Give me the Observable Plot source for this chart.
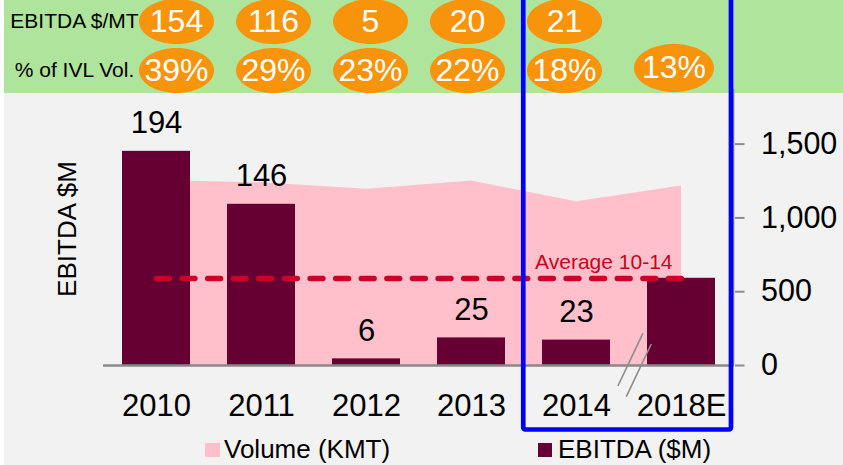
<!DOCTYPE html>
<html><head><meta charset="utf-8">
<script src="https://cdn.jsdelivr.net/npm/d3@7"></script>
<script src="https://cdn.jsdelivr.net/npm/@observablehq/plot@0.6"></script>
<style>
body{margin:0;background:#fff;}
#wrap{position:relative;width:843px;height:465px;overflow:hidden;background:#fff;font-family:"Liberation Sans",Arial,sans-serif;}
#green{position:absolute;left:4px;top:0;width:839px;height:93px;background:#aee49b;}
#gray{position:absolute;left:4px;top:93px;width:839px;height:372px;background:#f2f2f2;}
.layer{position:absolute;left:0;top:0;}
.lg{position:absolute;font-size:26px;line-height:26px;color:#000;white-space:nowrap;}
.sw{position:absolute;}
</style></head><body>
<div id="wrap"><div id="green"></div><div id="gray"></div></div>
<script>
// ---- data ----
const years = ["2010", "2011", "2012", "2013", "2014", "2018E"];
const ebitda = [194, 146, 6, 25, 23, 79];            // $M
const ebitdaLabels = ["194", "146", "6", "25", "23", ""];
const volume = [1253, 1238, 1194, 1250, 1110, 1216];  // KMT
const perMT = [154, 116, 5, 20, 21, null];
const ivlShare = ["39%", "29%", "23%", "22%", "18%", "13%"];
const rowLabels = ["EBITDA $/MT", "% of IVL Vol."];
const yTicks = [0, 500, 1000, 1500];
const avgLabel = "Average 10-14";
const yTitle = "EBITDA $M";
const legendLabels = ["Volume (KMT)", "EBITDA ($M)"];
const ebitdaAxisMax = 250, volumeAxisMax = 1870;

const FONT = '"Liberation Sans", Arial, sans-serif';
const C = {pink: "#ffc0cb", bar: "#660033", red: "#cc0029", orange: "#f7940c", blue: "#0000ff", gray: "#8c8c8c"};

const k = volumeAxisMax / ebitdaAxisMax;
const rows = years.map((y, i) => ({year: y, ebitda: ebitda[i], label: ebitdaLabels[i], volume: volume[i]}));
const avg = d3.mean(ebitda.slice(0, 5));
const avgEnds = [years[0], years[years.length - 1]];
const padIn = 0.357;

const wrap = document.getElementById("wrap");

const mainPlot = Plot.plot({
  width: 843, height: 435, marginLeft: 103, marginRight: 109, marginTop: 89, marginBottom: 70,
  style: {background: "transparent", fontFamily: FONT, fontSize: "30px", color: "#000", overflow: "visible"},
  x: {domain: years, paddingInner: padIn, paddingOuter: padIn / 2, label: null},
  y: {domain: [0, volumeAxisMax], range: [365, 89], label: null},
  marks: [
    Plot.areaY(rows, {x: "year", y: "volume", fill: C.pink}),
    Plot.barY(rows, {x: "year", y: d => d.ebitda * k, fill: C.bar}),
    Plot.ruleY([0], {stroke: "#898989", strokeWidth: 2.7}),
    Plot.lineY(avgEnds, {x: d => d, y: d => avg * k, stroke: C.red, strokeWidth: 5.5, strokeDasharray: "12.8,12.8", strokeLinecap: "round"}),
    Plot.text(rows.filter(d => d.label), {x: "year", y: d => d.ebitda * k, text: "label", dy: -18, lineAnchor: "bottom", fontSize: 31, fill: "#000"}),
    Plot.text([avgLabel], {x: d => years[years.length - 1], y: d => avg * k, text: d => d, textAnchor: "end", dx: -9, dy: -10, lineAnchor: "bottom", fontSize: 21, fill: "#c8001e"}),
    Plot.text([yTitle], {frameAnchor: "left", text: d => d, rotate: -90, textAnchor: "middle", dx: -36.3, dy: 1.5, fontSize: 26, fill: "#000"}),
    Plot.axisX({tickSize: 0, tickPadding: 28, fontSize: 31, fill: "#000", label: null}),
    Plot.axisY(yTicks, {anchor: "right", tickSize: 9.5, tickPadding: 17, tickFormat: d3.format(","), fontSize: 30.5, stroke: C.gray, strokeWidth: 2, fill: "#000", label: null})
  ]
});
mainPlot.classList.add("layer");
wrap.appendChild(mainPlot);

// axis line + break marks from the plot's own scales
const xs = mainPlot.scale("x"), ys = mainPlot.scale("y");
const bw = xs.bandwidth;
const step = xs.step || bw / (1 - padIn);
const y0 = ys.apply(0);
const msvg = d3.select(mainPlot);
msvg.append("line").attr("x1", xs.range[1] - 0.7).attr("x2", xs.range[1] - 0.7)
  .attr("y1", ys.apply(volumeAxisMax)).attr("y2", y0).attr("stroke", C.gray).attr("stroke-width", 2);
const mid = (xs.apply("2014") + bw + xs.apply("2018E")) / 2;
[[14.4, -31.7, -10.6, 21], [22.8, -21, -2.2, 31.7]].forEach(([a, b, c, d]) => {
  msvg.append("line").attr("x1", mid + a).attr("y1", y0 + b).attr("x2", mid + c).attr("y2", y0 + d)
    .attr("stroke", C.gray).attr("stroke-width", 1.6);
});

// ---- top table ----
const ellipse = {draw(ctx, size) {
  const rx = Math.sqrt(size / Math.PI), ry = rx * 0.6, kx = 0.5523 * rx, ky = 0.5523 * ry;
  ctx.moveTo(rx, 0);
  ctx.bezierCurveTo(rx, ky, kx, ry, 0, ry);
  ctx.bezierCurveTo(-kx, ry, -rx, ky, -rx, 0);
  ctx.bezierCurveTo(-rx, -ky, -kx, -ry, 0, -ry);
  ctx.bezierCurveTo(kx, -ry, rx, -ky, rx, 0);
  ctx.closePath();
}};
const cells = [
  ...perMT.map((v, i) => ({year: years[i], row: rowLabels[0], text: v == null ? null : String(v)})).filter(d => d.text),
  ...ivlShare.map((v, i) => ({year: years[i], row: rowLabels[1], text: v}))
];
const early = cells.filter(d => d.year !== "2018E"), late = cells.filter(d => d.year === "2018E");
const tablePlot = Plot.plot({
  width: 843, height: 93, margin: 0,
  style: {background: "transparent", fontFamily: FONT, color: "#000", overflow: "visible"},
  x: {type: "point", domain: years, range: [175, 662.5], padding: 0, axis: null},
  y: {type: "point", domain: rowLabels, range: [21, 70], padding: 0, axis: null},
  marks: [
    Plot.text(rowLabels, {y: d => d, frameAnchor: "left", dx: 74, text: d => d, textAnchor: "middle", fontSize: 21, fill: "#000"}),
    Plot.dot(early, {x: "year", y: "row", r: 37.5, symbol: ellipse, fill: C.orange}),
    Plot.dot(late, {x: "year", y: "row", r: 40, symbol: ellipse, fill: C.orange, dx: 12.5, dy: -2.5}),
    Plot.text(early, {x: "year", y: "row", text: "text", fill: "#fff", fontSize: 32}),
    Plot.text(late, {x: "year", y: "row", text: "text", fill: "#fff", fontSize: 32, dx: 12.5, dy: -2.5})
  ]
});
tablePlot.classList.add("layer");
wrap.appendChild(tablePlot);

// ---- highlight box (from the main x scale) ----
const ov = d3.select(wrap).append("svg").attr("class", "layer").attr("width", 843).attr("height", 465)
  .style("overflow", "visible").style("pointer-events", "none");
const bx1 = xs.apply("2014") - step * padIn / 2, bx2 = xs.range[1] - 3;
ov.append("rect").attr("x", bx1).attr("y", -10).attr("width", bx2 - bx1).attr("height", 439.5)
  .attr("fill", "none").attr("stroke", C.blue).attr("stroke-width", 4.7).attr("rx", 2);

// ---- legend ----
const legend = [
  {label: legendLabels[0], color: C.pink, sx: 205, tx: 224},
  {label: legendLabels[1], color: C.bar, sx: 537.5, tx: 558}
];
legend.forEach(l => {
  const s = document.createElement("div");
  s.className = "sw";
  Object.assign(s.style, {left: l.sx + "px", top: "442.5px", width: "14.5px", height: "14px", background: l.color});
  wrap.appendChild(s);
  const t = document.createElement("div");
  t.className = "lg";
  t.textContent = l.label;
  Object.assign(t.style, {left: l.tx + "px", top: "436.3px"});
  wrap.appendChild(t);
});
</script>
</body></html>
